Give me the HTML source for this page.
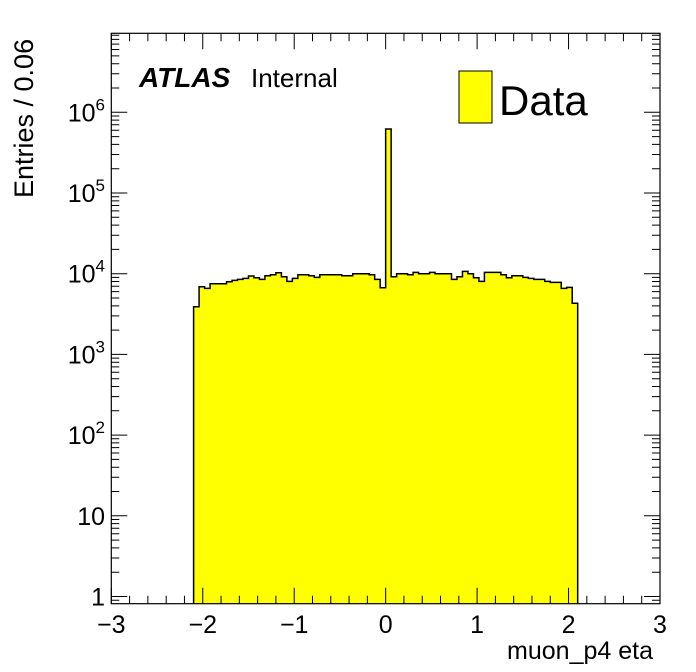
<!DOCTYPE html>
<html><head><meta charset="utf-8"><style>
body{margin:0;background:#fff;}
svg{display:block;font-family:"Liberation Sans",sans-serif;}
</style></head><body>
<svg id="chart" width="696" height="672">
<g id="bars"></g>
<g id="axes"></g>
<text x="139" y="87" font-size="28" font-weight="bold" font-style="italic">ATLAS</text>
<text x="251" y="87" font-size="26">Internal</text>
<rect x="459" y="71" width="33" height="52" fill="#ffff00" stroke="#000" stroke-width="1"/>
<text x="499" y="115" font-size="42">Data</text>
<text x="653" y="659" font-size="25" text-anchor="end">muon_p4 eta</text>
<text transform="translate(33,198) rotate(-90)" font-size="27">Entries / 0.06</text>
</svg>
<script>
const binLow = -2.1;
const binWidth = 0.06;
const counts = [3900,6900,6580,7510,7510,7510,7960,8260,8510,8750,9350,8920,8510,9440,9710,10290,9170,8040,8750,9710,9710,9440,9000,9710,9710,9710,9710,9440,9440,10000,10000,10000,9710,8510,6700,
620000,9170,10000,10000,9710,10390,10000,10000,10390,10000,10000,10000,8510,9170,10690,10000,8920,8040,10390,10390,10390,9710,8920,9440,9440,9000,8750,8510,8510,8040,7820,7820,6580,6770,4300];
const xTicks = [-3,-2,-1,0,1,2,3];
const xTickLabels = ["\u22123","\u22122","\u22121","0","1","2","3"];
const yTickExps = [0,1,2,3,4,5,6];
const yTickLabels = ["1","10","10^2","10^3","10^4","10^5","10^6"];

const L=111.3,R=660,T=33.3,B=603.7;
const xMin=-3,xMax=3;
const Y1=596.5, DEC=80.7;
function X(v){return L+(v-xMin)/(xMax-xMin)*(R-L);}
function Y(v){return Math.min(B, Y1-DEC*Math.log10(v));}
const NS="http://www.w3.org/2000/svg";
function mk(tag,attrs,parent){const e=document.createElementNS(NS,tag);for(const k in attrs)e.setAttribute(k,attrs[k]);parent.appendChild(e);return e;}

const bars=document.getElementById('bars');
let d="M"+X(binLow)+","+B;
counts.forEach((c,i)=>{
  const x0=X(binLow+i*binWidth), x1=X(binLow+(i+1)*binWidth);
  const r=mk('rect',{x:x0,y:Y(c),width:x1-x0+0.3,height:B-Y(c),fill:'#ffff00'},bars);
  
  
  d+=" L"+x0+","+Y(c)+" L"+x1+","+Y(c);
});
d+=" L"+X(binLow+counts.length*binWidth)+","+B;
const outline=mk('path',{d:d,fill:'none',stroke:'#000','stroke-width':1.5},bars);



const ax=document.getElementById('axes');
const frame=mk('rect',{x:L,y:T,width:R-L,height:B-T,fill:'none',stroke:'#000','stroke-width':1.2},ax);


let td="";
for(let v=xMin;v<=xMax+1e-9;v+=0.2){
  const x=X(v); const major=Math.abs(v-Math.round(v))<1e-6; const len=major?16:8;
  td+=`M${x},${B}v${-len}M${x},${T}v${len}`;
}
for(let e=-1;e<7;e++){
  for(let m=1;m<10;m++){
    const v=m*Math.pow(10,e); const y=Y1-DEC*Math.log10(v);
    if(y<T||y>B)continue;
    const len=m===1?16:8;
    td+=`M${L},${y}h${len}M${R},${y}h${-len}`;
  }
}
const ticks=mk('path',{d:td,stroke:'#000','stroke-width':1,fill:'none'},ax);


xTicks.forEach((v,i)=>{
  const t=mk('text',{x:X(v),y:633,'font-size':25,'text-anchor':'middle'},ax);
  t.textContent=xTickLabels[i];
  
  
});
yTickExps.forEach((e,i)=>{
  const y=Y1-DEC*e;
  const t=mk('text',{x:105,y:y+9,'font-size':25,'text-anchor':'end'},ax);
  const lab=yTickLabels[i];
  if(lab.indexOf('^')>=0){
    const p=lab.split('^');
    t.textContent=p[0];
    const s=mk('tspan',{'font-size':17,dy:-11},t);
    s.textContent=p[1];
  } else t.textContent=lab;
  
  
});
</script>
</body></html>
